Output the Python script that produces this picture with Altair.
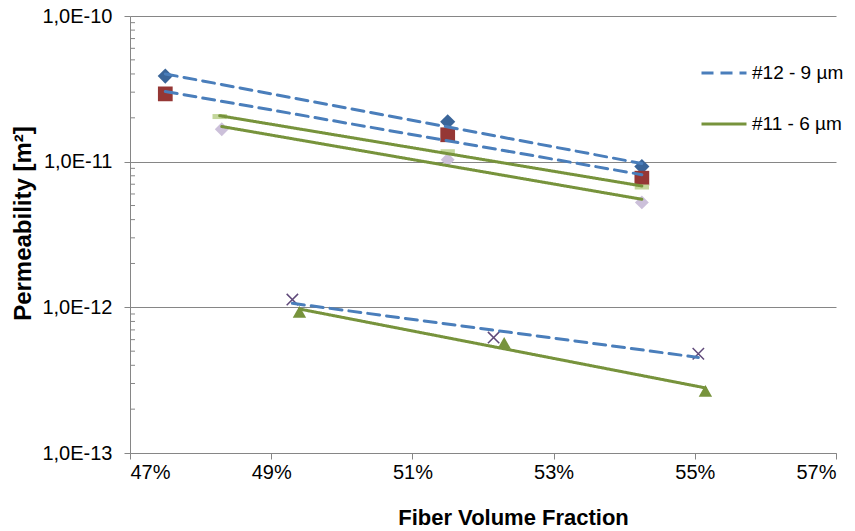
import altair as alt
import pandas as pd

# ---- data ----
series_names = ["s12a", "s12b", "s11a", "s11b", "s12c", "s11c"]
groups = ["#12 - 9 µm", "#12 - 9 µm", "#11 - 6 µm", "#11 - 6 µm", "#12 - 9 µm", "#11 - 6 µm"]

s12a_x = [47.5, 51.5, 54.25]
s12a_k = [3.87e-11, 1.88e-11, 9.25e-12]
s12b_x = [47.5, 51.5, 54.25]
s12b_k = [2.92e-11, 1.53e-11, 7.7e-12]
s11a_x = [48.27, 51.5, 54.25]
s11a_k = [2.04e-11, 1.17e-11, 6.7e-12]
s11b_x = [48.3, 51.5, 54.25]
s11b_k = [1.67e-11, 1.03e-11, 5.25e-12]
s12c_x = [49.3, 52.15, 55.05]
s12c_k = [1.13e-12, 6.2e-13, 4.8e-13]
s11c_x = [49.4, 52.3, 55.15]
s11c_k = [9.3e-13, 5.7e-13, 2.67e-13]

xs = [s12a_x, s12b_x, s11a_x, s11b_x, s12c_x, s11c_x]
ks = [s12a_k, s12b_k, s11a_k, s11b_k, s12c_k, s11c_k]

x_ticks = [47, 49, 51, 53, 55, 57]
y_major = [1e-13, 1e-12, 1e-11, 1e-10]
minor_mult = [2, 3, 4, 5, 6, 7, 8, 9]
minor_decades = [1e-13, 1e-12, 1e-11]

rows = []
for name, grp, xv, kv in zip(series_names, groups, xs, ks):
    for a, b in zip(xv, kv):
        rows.append({"series": name, "group": grp, "x": a, "k": b})
df = pd.DataFrame(rows)
minor_df = pd.DataFrame({"v": [m * d for d in minor_decades for m in minor_mult]})

FONT = "Liberation Sans"
BLUE = "#4A7EBB"
GREEN = "#77933C"
GROUPS = ["#12 - 9 µm", "#11 - 6 µm"]

xscale = alt.Scale(domain=[47, 57], nice=False, zero=False)
yscale = alt.Scale(type="log", domain=[1e-13, 1e-10], nice=False)

xaxis = alt.Axis(
    values=x_ticks, labelExpr="datum.value + '%'", grid=False,
    domainColor="#868686", tickColor="#868686", tickSize=6,
    labelFont=FONT, labelFontSize=20, labelColor="#000000", labelPadding=3,
    title="Fiber Volume Fraction", titleFont=FONT, titleFontSize=22,
    titleFontWeight="bold", titleColor="#000000", titleX=383, titleY=71,
    titleBaseline="alphabetic", titleAlign="center",
)
yaxis = alt.Axis(
    values=y_major, labelExpr="'1,0E' + round(log(datum.value) / LN10)",
    grid=True, gridColor="#868686", gridWidth=1,
    domainColor="#868686", tickColor="#868686", tickSize=6,
    labelFont=FONT, labelFontSize=20, labelColor="#000000", labelPadding=12,
    title="Permeability [m²]", titleFont=FONT, titleFontSize=24,
    titleFontWeight="bold", titleColor="#000000", titleX=-107, titleY=207,
    titleBaseline="middle", titleAlign="center", titleAngle=270,
)

base = alt.Chart(df)

minor = alt.Chart(minor_df).mark_rule(color="#868686", strokeWidth=1).encode(
    x=alt.value(0), x2=alt.value(5),
    y=alt.Y("v:Q", scale=yscale, axis=yaxis),
)

DASH = "M-1,-0.35L1,-0.35L1,0.35L-1,0.35Z"
mk_domain = ["s12a", "s12b", "s11a", "s11b", "s11c"]
shape_scale = alt.Scale(domain=mk_domain,
                        range=["diamond", "square", DASH, "diamond", "triangle-up"])
color_scale = alt.Scale(domain=mk_domain,
                        range=["#3A6599", "#953735", "#C3D69B", "#CCC0DA", "#77933C"])
size_scale = alt.Scale(domain=mk_domain, range=[230, 180, 160, 230, 230])

filled = base.transform_filter("datum.series != 's12c'").mark_point(
    filled=True, opacity=1
).encode(
    x=alt.X("x:Q", scale=xscale, axis=xaxis),
    y=alt.Y("k:Q", scale=yscale, axis=yaxis),
    shape=alt.Shape("series:N", scale=shape_scale, legend=None),
    color=alt.Color("series:N", scale=color_scale, legend=None),
    size=alt.Size("series:N", scale=size_scale, legend=None),
)

xmarks = base.transform_filter("datum.series == 's12c'").mark_point(
    shape="M-1,-1L1,1M1,-1L-1,1", filled=False, stroke="#5F497A",
    strokeWidth=1.5, size=130, opacity=1,
).encode(
    x=alt.X("x:Q", scale=xscale, axis=xaxis),
    y=alt.Y("k:Q", scale=yscale, axis=yaxis),
)

leg = alt.Legend(
    title=None, orient="none", legendX=570, legendY=33,
    symbolType="stroke", symbolSize=2025, symbolStrokeWidth=3,
    labelFont=FONT, labelFontSize=19, labelColor="#000000",
    labelOffset=4, rowPadding=17, padding=0,
)

trend = base.transform_calculate(
    logk="log(datum.k)"
).transform_regression(
    "x", "logk", groupby=["series", "group"], method="linear"
).transform_calculate(
    k="exp(datum.logk)"
).mark_line(strokeWidth=3, strokeCap="round").encode(
    x=alt.X("x:Q", scale=xscale, axis=xaxis),
    y=alt.Y("k:Q", scale=yscale, axis=yaxis),
    detail="series:N",
    stroke=alt.Stroke("group:N", scale=alt.Scale(domain=GROUPS, range=[BLUE, GREEN]),
                      legend=leg),
    strokeDash=alt.StrokeDash("group:N",
                              scale=alt.Scale(domain=GROUPS, range=[[12, 7], [1, 0]]),
                              legend=leg),
)

chart = alt.layer(minor, filled, xmarks, trend).resolve_scale(
    color="independent"
).properties(
    width=706, height=437,
    autosize=alt.AutoSizeParams(type="none"),
    padding={"left": 130, "top": 16, "right": 19, "bottom": 78},
    background="#FFFFFF",
).configure_view(stroke=None)

chart.save("out.html", embed_options={"renderer": "svg", "actions": False})
